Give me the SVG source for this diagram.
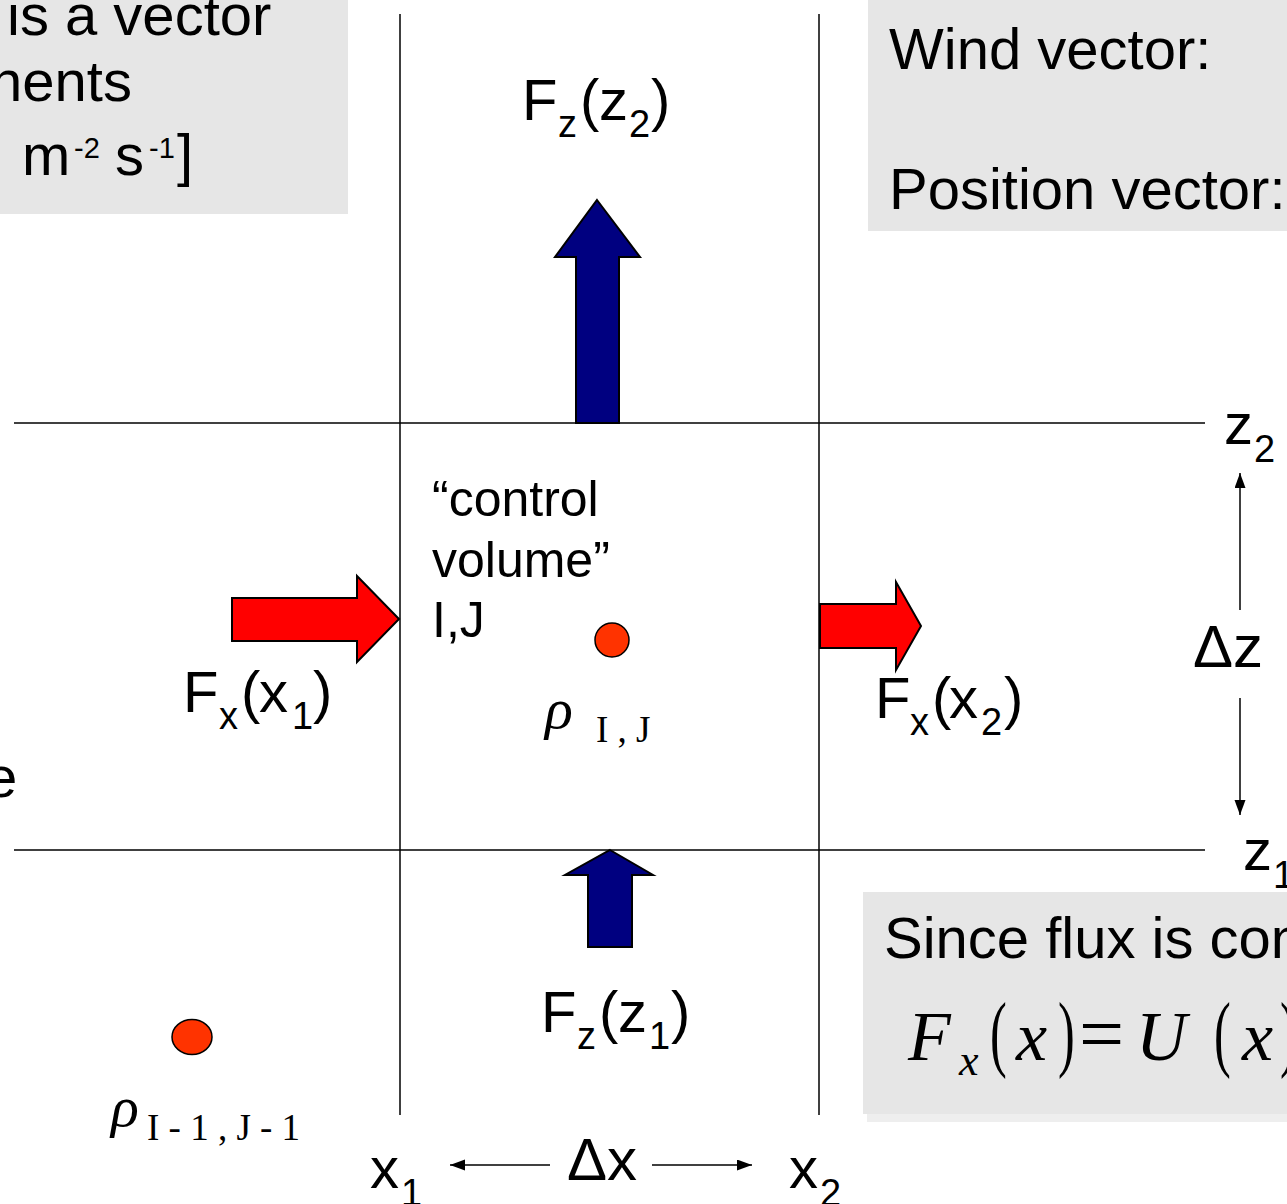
<svg xmlns="http://www.w3.org/2000/svg" width="1287" height="1204" viewBox="0 0 1287 1204">
<defs>
<style>
.sans{font-family:"Liberation Sans",Arial,sans-serif;fill:#000}
.serif{font-family:"Liberation Serif","Times New Roman",serif;fill:#000}
.it{font-style:italic}
.f58{font-size:58px}
.sub{font-size:38px}
.sup{font-size:29px}
.box{fill:#e6e6e6}
.grid{stroke:#000;stroke-width:1.5;fill:none}
.blue{fill:#000080;stroke:#000;stroke-width:2}
.red{fill:#ff0000;stroke:#000;stroke-width:2}
.dot{fill:#ff3300;stroke:#000;stroke-width:1.5}
.dim{stroke:#000;stroke-width:1.5;fill:none}
.paren{font-size:84px}
</style>
<marker id="ah" markerUnits="userSpaceOnUse" markerWidth="16" markerHeight="12" refX="15" refY="5.5" orient="auto">
<path d="M0,0 L15,5.5 L0,11 z" fill="#000"/>
</marker>
</defs>
<rect width="1287" height="1204" fill="#fff"/>

<g id="box-flux-def">
<rect class="box" x="0" y="0" width="348" height="214"/>
<text class="sans f58" x="7" y="35">is a vector</text>
<text class="sans f58" x="-10" y="101">nents</text>
<text class="sans f58"><tspan x="22" y="175">m</tspan><tspan class="sup" x="74" y="158">-2</tspan><tspan x="115" y="175">s</tspan><tspan class="sup" x="149" y="158">-1</tspan><tspan x="177" y="175">]</tspan></text>
</g>

<g id="box-vectors">
<rect class="box" x="868" y="0" width="419" height="231"/>
<text class="sans f58" x="889" y="69">Wind vector:</text>
<text class="sans f58" x="889" y="209">Position vector:</text>
</g>

<g id="box-conservation">
<rect x="867" y="899" width="420" height="223" fill="#eeeeee"/>
<rect class="box" x="863" y="892" width="424" height="222"/>
<text class="sans f58" x="884" y="958">Since flux is con</text>
<text class="serif it" font-size="70" x="908" y="1060">F</text>
<text class="serif it" font-size="44" x="959" y="1075">x</text>
<text class="serif paren" transform="translate(990,1061) scale(0.6,1)">(</text>
<text class="serif it" font-size="70" x="1016" y="1060">x</text>
<text class="serif paren" transform="translate(1058,1061) scale(0.6,1)">)</text>
<text class="serif" font-size="80" x="1079" y="1061">=</text>
<text class="serif it" font-size="70" x="1136" y="1060">U</text>
<text class="serif paren" transform="translate(1214,1061) scale(0.6,1)">(</text>
<text class="serif it" font-size="70" x="1242" y="1060">x</text>
<text class="serif paren" transform="translate(1280,1061) scale(0.6,1)">)</text>
</g>

<g id="grid-lines">
<line class="grid" x1="400" y1="14" x2="400" y2="1115"/>
<line class="grid" x1="819" y1="14" x2="819" y2="1115"/>
<line class="grid" x1="14" y1="423" x2="1205" y2="423"/>
<line class="grid" x1="14" y1="850" x2="1205" y2="850"/>
</g>

<g id="flux-arrows">
<polygon id="arrow-fz2" class="blue" points="597,200 640,257 619,257 619,423 576,423 576,257 555,257"/>
<polygon id="arrow-fz1" class="blue" points="610,850 653,875 632,875 632,947 588,947 588,875 565,875"/>
<polygon id="arrow-fx1" class="red" points="232,598 357,598 357,576 399,619 357,662 357,641 232,641"/>
<polygon id="arrow-fx2" class="red" points="820,604 896,604 896,582 921,626 896,670 896,648 820,648"/>
</g>

<g id="label-fz2">
<text class="sans f58"><tspan x="522" y="120">F</tspan><tspan class="sub" x="558" y="137">z</tspan><tspan x="580" y="120">(</tspan><tspan x="599" y="120">z</tspan><tspan class="sub" x="629" y="137">2</tspan><tspan x="651" y="120">)</tspan></text>
</g>
<g id="label-fx1">
<text class="sans f58"><tspan x="183" y="712">F</tspan><tspan class="sub" x="219" y="729">x</tspan><tspan x="241" y="712">(</tspan><tspan x="259" y="712">x</tspan><tspan class="sub" x="292" y="729">1</tspan><tspan x="313" y="712">)</tspan></text>
</g>
<g id="label-fx2">
<text class="sans f58"><tspan x="875" y="718">F</tspan><tspan class="sub" x="910" y="735">x</tspan><tspan x="932" y="718">(</tspan><tspan x="949" y="718">x</tspan><tspan class="sub" x="981" y="735">2</tspan><tspan x="1004" y="718">)</tspan></text>
</g>
<g id="label-fz1">
<text class="sans f58"><tspan x="541" y="1032">F</tspan><tspan class="sub" x="577" y="1049">z</tspan><tspan x="599" y="1032">(</tspan><tspan x="618" y="1032">z</tspan><tspan class="sub" x="649" y="1049">1</tspan><tspan x="671" y="1032">)</tspan></text>
</g>

<g id="control-volume">
<text class="sans" font-size="50" x="432" y="516">“control</text>
<text class="sans" font-size="50" x="432" y="577">volume”</text>
<text class="sans" font-size="50" x="432" y="637">I,J</text>
</g>

<g id="density-IJ">
<circle class="dot" cx="612" cy="640" r="17"/>
<text class="serif it" font-size="58" x="545" y="728">ρ</text>
<text class="serif" font-size="37" x="596" y="742">I , J</text>
</g>

<g id="density-I1J1">
<ellipse class="dot" cx="192" cy="1037" rx="20" ry="17.5"/>
<text class="serif it" font-size="58" x="111" y="1126">ρ</text>
<text class="serif" font-size="37" x="147" y="1140">I - 1 , J - 1</text>
</g>

<g id="axis-labels">
<text class="sans f58"><tspan x="1224" y="444">z</tspan><tspan class="sub" x="1254" y="462">2</tspan></text>
<text class="sans f58"><tspan x="1243" y="870">z</tspan><tspan class="sub" x="1273" y="888">1</tspan></text>
<text class="sans" font-size="60" x="1193" y="667">Δz</text>
<text class="sans f58"><tspan x="370" y="1188">x</tspan><tspan class="sub" x="401" y="1206">1</tspan></text>
<text class="sans" font-size="60" x="567" y="1180">Δx</text>
<text class="sans f58"><tspan x="789" y="1188">x</tspan><tspan class="sub" x="820" y="1206">2</tspan></text>
<text class="sans f58" x="-15" y="797">e</text>
</g>

<g id="connectors">
<line class="dim" x1="550" y1="1165" x2="450" y2="1165" marker-end="url(#ah)"/>
<line class="dim" x1="652" y1="1165" x2="752" y2="1165" marker-end="url(#ah)"/>
<line class="dim" x1="1240" y1="610" x2="1240" y2="473" marker-end="url(#ah)"/>
<line class="dim" x1="1240" y1="698" x2="1240" y2="815" marker-end="url(#ah)"/>
</g>
</svg>
